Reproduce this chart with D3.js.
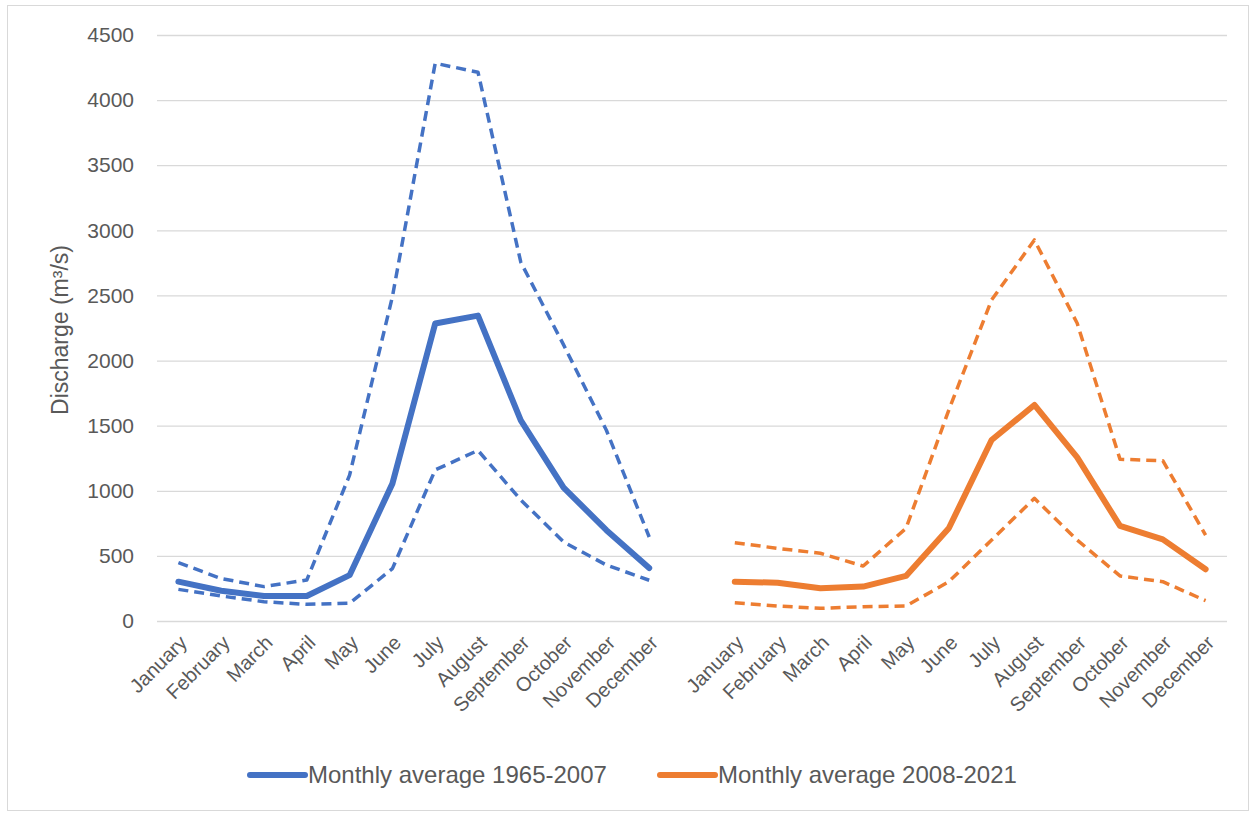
<!DOCTYPE html>
<html>
<head>
<meta charset="utf-8">
<script src="https://cdn.jsdelivr.net/npm/d3@7/dist/d3.min.js"></script>
<style>
  html, body { margin: 0; padding: 0; background: #fff; }
  svg { display: block; }
</style>
</head>
<body>
<div id="chart"></div>
<script>
// Discharge by month, two periods side by side

const months = ["January","February","March","April","May","June","July","August","September","October","November","December"];
const yTicks = [0,500,1000,1500,2000,2500,3000,3500,4000,4500];

// 1965-2007
const avgOld  = [302,232,192,192,352,1055,2285,2345,1540,1025,697,407];
const highOld = [448,326,264,315,1120,2490,4283,4214,2755,2120,1465,645];
const lowOld  = [243,192,148,128,136,402,1160,1310,930,607,430,313];

// 2008-2021
const avgNew  = [302,294,251,264,346,712,1390,1659,1257,730,627,397];
const highNew = [601,558,520,422,712,1620,2465,2926,2286,1242,1231,660];
const lowNew  = [141,115,97,110,115,302,622,942,622,346,302,156];

const legendLabels = ["Monthly average 1965-2007","Monthly average 2008-2021"];

const W = 1250, H = 813;
const margin = { top: 35, right: 23, bottom: 192, left: 157 };
const innerW = W - margin.left - margin.right;
const innerH = H - margin.top - margin.bottom;

const blue = "#4472C4", orange = "#ED7D31", grey = "#595959";
const font = "'Liberation Sans', Arial, sans-serif";

// 12 months, one empty slot, 12 months
const labels = [...months, "", ...months];

const svg = d3.select("#chart").append("svg")
  .attr("width", W)
  .attr("height", H);

svg.append("rect")
  .attr("x", 7.5).attr("y", 5.5)
  .attr("width", W - 9).attr("height", H - 8)
  .attr("fill", "none")
  .attr("stroke", "#D9D9D9");

const g = svg.append("g")
  .attr("transform", `translate(${margin.left},${margin.top})`);

const x = d3.scaleBand()
  .domain(d3.range(labels.length))
  .range([0, innerW]);

const y = d3.scaleLinear()
  .domain([0, 4500])
  .range([innerH, 0]);

// grid
g.append("g")
  .call(d3.axisLeft(y).tickValues(yTicks).tickSize(-innerW).tickFormat(""))
  .call(a => a.select(".domain").remove())
  .call(a => a.selectAll("line").attr("stroke", "#D9D9D9").attr("stroke-width", 1.3));

// y labels
g.append("g")
  .call(d3.axisLeft(y).tickValues(yTicks).tickSize(0).tickPadding(23).tickFormat(d3.format("d")))
  .call(a => a.select(".domain").remove())
  .selectAll("text")
  .style("font-family", font)
  .style("font-size", "21px")
  .style("fill", grey);

// x labels
g.append("g")
  .attr("transform", `translate(0,${innerH})`)
  .call(d3.axisBottom(x).tickSize(0).tickFormat(i => labels[i]))
  .call(a => a.select(".domain").remove())
  .selectAll("text")
  .attr("text-anchor", "end")
  .attr("dy", "0.35em")
  .attr("transform", "translate(5,18) rotate(-45)")
  .attr("y", 0)
  .style("font-family", font)
  .style("font-size", "20px")
  .style("fill", grey);

// y title
svg.append("text")
  .attr("transform", `translate(68,${margin.top + innerH / 2 + 2}) rotate(-90)`)
  .attr("text-anchor", "middle")
  .style("font-family", font)
  .style("font-size", "23px")
  .style("fill", grey)
  .text("Discharge (m³/s)");

const cx = (i, offset) => x(i + offset) + x.bandwidth() / 2;

function drawLine(values, offset, color, dashed){
  const line = d3.line()
    .x((d, i) => cx(i, offset))
    .y(d => y(d));
  g.append("path")
    .datum(values)
    .attr("d", line)
    .attr("fill", "none")
    .attr("stroke", color)
    .attr("stroke-width", dashed ? 3.5 : 6)
    .attr("stroke-linejoin", "round")
    .attr("stroke-linecap", dashed ? "butt" : "round")
    .attr("stroke-dasharray", dashed ? "10,6" : null);
}

drawLine(highOld, 0, blue, true);
drawLine(lowOld, 0, blue, true);
drawLine(avgOld, 0, blue, false);

drawLine(highNew, 13, orange, true);
drawLine(lowNew, 13, orange, true);
drawLine(avgNew, 13, orange, false);

// legend
const legend = svg.append("g").attr("transform", "translate(0,775)");
[[blue, 250], [orange, 660]].forEach(([c, lx], k) => {
  legend.append("line")
    .attr("x1", lx).attr("x2", lx + 55)
    .attr("y1", 0).attr("y2", 0)
    .attr("stroke", c)
    .attr("stroke-width", 6)
    .attr("stroke-linecap", "round");
  legend.append("text")
    .attr("x", lx + 58)
    .attr("y", 0)
    .attr("dy", "0.35em")
    .style("font-family", font)
    .style("font-size", "24px")
    .style("fill", grey)
    .text(legendLabels[k]);
});
</script>
</body>
</html>
